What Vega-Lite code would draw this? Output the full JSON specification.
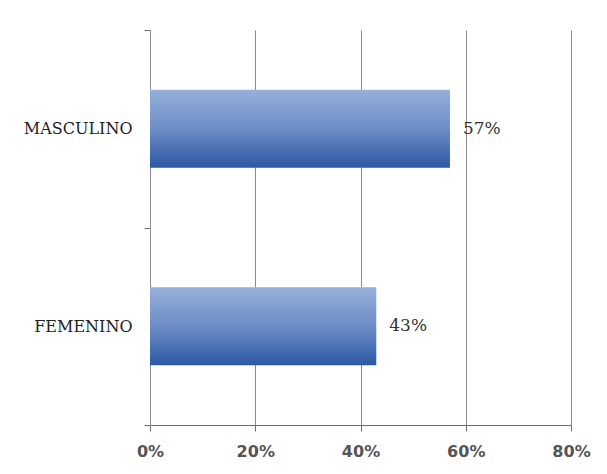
{
  "$schema": "https://vega.github.io/schema/vega-lite/v6.json",
  "width": 421,
  "height": 395,
  "autosize": {"type": "none"},
  "padding": {"left": 150, "top": 30, "right": 36, "bottom": 49},
  "background": "white",
  "data": {
    "values": [
      {"sexo": "MASCULINO", "pct": 0.57, "label": "57%"},
      {"sexo": "FEMENINO", "pct": 0.43, "label": "43%"}
    ]
  },
  "encoding": {
    "y": {
      "field": "sexo",
      "type": "nominal",
      "sort": ["MASCULINO", "FEMENINO"],
      "title": null,
      "scale": {"paddingInner": 0, "paddingOuter": 0},
      "axis": {
        "tickBand": "extent",
        "tickSize": 6,
        "tickColor": "#6d6d6d",
        "domainColor": "#8c8c9c",
        "labelFont": "DejaVu Serif",
        "labelFontSize": 16,
        "labelColor": "#222222",
        "labelPadding": 12,
        "grid": false
      }
    },
    "x": {
      "field": "pct",
      "type": "quantitative",
      "title": null,
      "scale": {"domain": [0, 0.8]},
      "axis": {
        "values": [0, 0.2, 0.4, 0.6, 0.8],
        "format": ".0%",
        "grid": true,
        "gridColor": "#8a8a8a",
        "gridWidth": 1,
        "tickSize": 6,
        "tickColor": "#6d6d6d",
        "domainColor": "#6d6d6d",
        "labelFlush": false,
        "labelFont": "DejaVu Sans",
        "labelFontSize": 16,
        "labelFontWeight": "bold",
        "labelColor": "#555555",
        "labelPadding": 12
      }
    }
  },
  "layer": [
    {
      "mark": {
        "type": "bar",
        "height": {"band": 0.395},
        "fill": {
          "gradient": "linear",
          "x1": 0, "y1": 0, "x2": 0, "y2": 1,
          "stops": [
            {"offset": 0, "color": "#98b0da"},
            {"offset": 0.5, "color": "#6d8dc6"},
            {"offset": 1, "color": "#2c58a4"}
          ]
        }
      }
    },
    {
      "mark": {
        "type": "text",
        "align": "left",
        "dx": 13,
        "font": "DejaVu Serif",
        "fontSize": 17,
        "color": "#333333"
      },
      "encoding": {"text": {"field": "label"}}
    }
  ],
  "config": {"view": {"stroke": null}}
}
